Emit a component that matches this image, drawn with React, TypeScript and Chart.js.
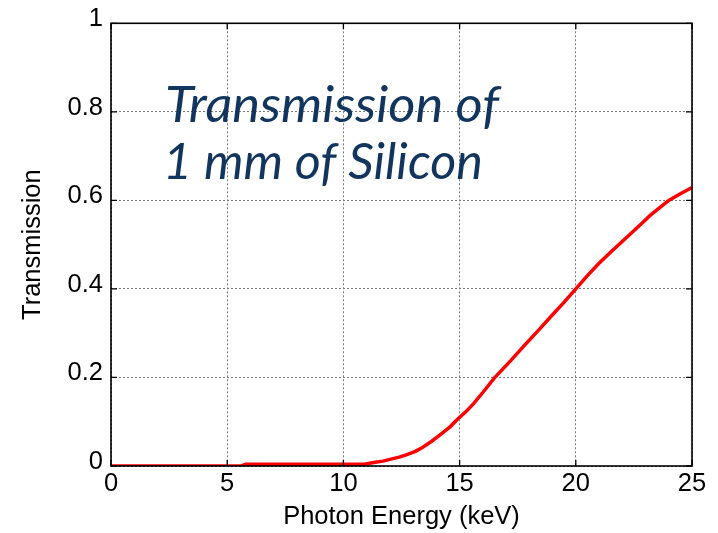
import React, { useEffect, useRef } from "react";
import { Chart, registerables } from "chart.js";

Chart.register(...registerables);

// Photon energy (keV) and transmission through 1 mm of silicon
const energyKeV = [0, 5.6, 5.8, 10.9, 11.3, 11.7, 12.0, 12.4, 12.7, 13.1, 13.4, 13.8, 14.2, 14.6, 14.9, 15.3, 15.6, 16.0, 16.5, 17.2, 17.8, 18.4, 18.9, 19.5, 20.0, 20.5, 21.0, 21.6, 22.3, 22.8, 23.2, 23.6, 24.0, 24.5, 25.0];
const transmission = [0, 0, 0.004, 0.004, 0.008, 0.011, 0.015, 0.02, 0.025, 0.033, 0.042, 0.056, 0.072, 0.089, 0.105, 0.124, 0.141, 0.166, 0.199, 0.238, 0.273, 0.307, 0.336, 0.37, 0.4, 0.43, 0.458, 0.488, 0.522, 0.546, 0.566, 0.583, 0.6, 0.615, 0.629];

const xTickLabels = ["0", "5", "10", "15", "20", "25"];
const yTickLabels = ["0", "0.2", "0.4", "0.6", "0.8", "1"];
const xTitle = "Photon Energy (keV)";
const yTitle = "Transmission";
const overlayLines = ["Transmission of", "1 mm of Silicon"];

export default function App() {
  const ref = useRef<HTMLCanvasElement | null>(null);

  useEffect(() => {
    const canvas = ref.current;
    if (!canvas) return;

    const boxPlugin = {
      id: "boxTicks",
      afterDraw(chart: any) {
        const { ctx, chartArea: a, scales } = chart;
        ctx.save();
        ctx.strokeStyle = "#000";
        ctx.lineWidth = 1.6;
        ctx.strokeRect(a.left, a.top, a.right - a.left, a.bottom - a.top);
        ctx.lineWidth = 1.3;
        const L = 6;
        ctx.beginPath();
        scales.x.ticks.forEach((t: any) => {
          const px = scales.x.getPixelForValue(t.value);
          ctx.moveTo(px, a.bottom);
          ctx.lineTo(px, a.bottom - L);
          ctx.moveTo(px, a.top);
          ctx.lineTo(px, a.top + L);
        });
        scales.y.ticks.forEach((t: any) => {
          const py = scales.y.getPixelForValue(t.value);
          ctx.moveTo(a.left, py);
          ctx.lineTo(a.left + L, py);
          ctx.moveTo(a.right, py);
          ctx.lineTo(a.right - L, py);
        });
        ctx.stroke();
        ctx.restore();
      },
    };

    const overlayPlugin = {
      id: "overlayText",
      afterDatasetsDraw(chart: any) {
        const c = chart.ctx;
        const specs = [
          { x: 165, y: 122, w: 334 },
          { x: 163, y: 179, w: 320 },
        ];
        c.save();
        c.fillStyle = "#12355E";
        c.font = "italic 51px Lato";
        c.textBaseline = "alphabetic";
        c.textAlign = "left";
        overlayLines.forEach((line, i) => {
          const s = specs[i];
          const m = c.measureText(line).width;
          c.save();
          c.translate(s.x, s.y);
          c.scale(s.w / m, 1);
          c.fillText(line, 0, 0);
          c.restore();
        });
        c.restore();
      },
    };

    const gridOpts = {
      color: "#7a7a7a",
      lineWidth: 1,
      drawTicks: false,
    };

    const font = { family: "Liberation Sans", size: 25.5 };

    const chart = new Chart(canvas, {
      type: "line",
      data: {
        labels: energyKeV,
        datasets: [
          {
            data: energyKeV.map((e, i) => ({ x: e, y: transmission[i] })),
            borderColor: "#ff0000",
            borderWidth: 3.5,
            pointRadius: 0,
            fill: false,
            tension: 0,
          },
        ],
      },
      options: {
        responsive: false,
        animation: false,
        devicePixelRatio: 1,
        layout: { padding: { left: 0, right: 26, top: 22, bottom: 0 } },
        plugins: {
          legend: { display: false },
          tooltip: { enabled: false },
        },
        scales: {
          x: {
            type: "linear",
            min: 0,
            max: 25,
            ticks: {
              stepSize: 5,
              padding: 3,
              color: "#000",
              font,
              callback: (_v: any, i: number) => xTickLabels[i],
            },
            grid: gridOpts,
            border: { display: false, dash: [2, 2] },
            title: {
              display: true,
              text: xTitle,
              color: "#000",
              font,
              padding: { top: 0, bottom: 1 },
            },
            afterFit: (s: any) => {
              s.height = 67;
            },
          },
          y: {
            type: "linear",
            min: 0,
            max: 1,
            ticks: {
              stepSize: 0.2,
              padding: 8,
              labelOffset: -4,
              color: "#000",
              font,
              callback: (_v: any, i: number) => yTickLabels[i],
            },
            grid: gridOpts,
            border: { display: false, dash: [2, 2] },
            title: {
              display: true,
              text: yTitle,
              color: "#000",
              font,
              padding: { top: 18, bottom: 0 },
            },
            afterFit: (s: any) => {
              s.width = 111;
            },
          },
        },
      },
      plugins: [boxPlugin, overlayPlugin],
    } as any);

    return () => chart.destroy();
  }, []);

  return (
    <div style={{ position: "fixed", left: 0, top: 0, width: 718, height: 533, background: "#fff" }}>
      <canvas ref={ref} width={718} height={533} style={{ display: "block" }} />
    </div>
  );
}
